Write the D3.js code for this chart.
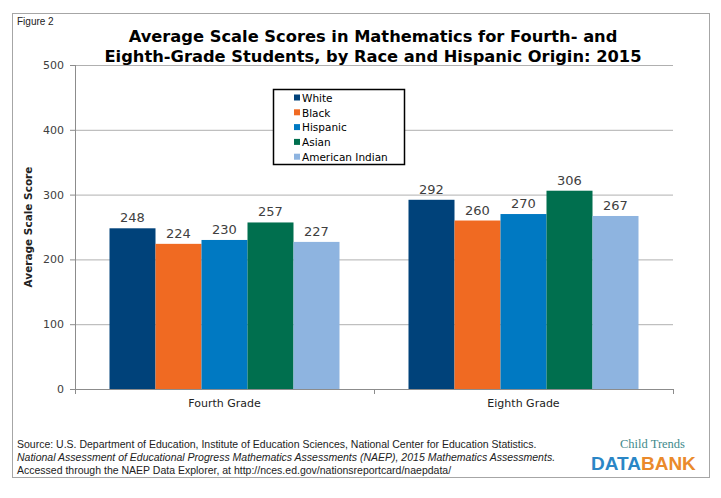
<!DOCTYPE html>
<html>
<head>
<meta charset="utf-8">
<script src="https://cdn.jsdelivr.net/npm/d3@7"></script>
<style>
  body { margin: 0; background: #fff; }
  svg { display: block; font-family: "DejaVu Sans", Verdana, sans-serif; }
</style>
</head>
<body>
<script>
(function () {
  "use strict";
  var w = 721, h = 498;
  var grades = ["Fourth Grade", "Eighth Grade"];
  var groups = ["White", "Black", "Hispanic", "Asian", "American Indian"];
  var colors = ["#00427a", "#f06a22", "#0079c2", "#006f4e", "#8eb4e0"];
  var fourth = [248, 224, 230, 257, 227];
  var eighth = [292, 260, 270, 306, 267];
  var yTicks = [0, 100, 200, 300, 400, 500];
  var scores = [fourth, eighth];

  var m = {left: 75, right: 673, top: 65, bottom: 389};

  var svg = d3.select("body").append("svg")
              .attr("width", w)
              .attr("height", h);

  // frame
  svg.append("rect")
     .attr("x", 12.5).attr("y", 13.5)
     .attr("width", 697).attr("height", 464)
     .attr("fill", "none").attr("stroke", "#a6a6a6");

  svg.append("text")
     .attr("x", 17).attr("y", 25)
     .attr("font-family", "Liberation Sans Narrow, Liberation Sans, sans-serif")
     .attr("font-size", 10).attr("fill", "#222")
     .text("Figure 2");

  var title = ["Average Scale Scores in Mathematics for Fourth- and",
               "Eighth-Grade Students, by Race and Hispanic Origin: 2015"];
  svg.selectAll("text.title")
     .data(title).enter().append("text")
     .attr("class", "title")
     .attr("x", 373).attr("y", (d, i) => 42 + i * 20)
     .attr("text-anchor", "middle")
     .attr("font-size", 16.3).attr("font-weight", "bold").attr("fill", "#000")
     .text(d => d);

  var x = d3.scaleBand().domain(grades).range([m.left, m.right]);
  var xi = d3.scaleBand().domain(groups)
             .range([0, x.bandwidth()])
             .paddingInner(0).paddingOuter(0.75);
  var y = d3.scaleLinear().domain([0, 500]).range([m.bottom, m.top]);

  // gridlines
  svg.append("g")
     .attr("transform", "translate(" + m.left + ",0)")
     .call(d3.axisLeft(y).tickValues(yTicks).tickSize(-(m.right - m.left)).tickFormat(""))
     .call(g => g.select(".domain").remove())
     .call(g => g.selectAll("line").attr("stroke", "#b0b0b0"));

  // y axis
  var ya = svg.append("g")
     .attr("transform", "translate(" + m.left + ",0)")
     .call(d3.axisLeft(y).tickValues(yTicks).tickSize(5).tickPadding(6));
  ya.select(".domain").attr("stroke", "#8c8c8c").attr("d", "M0.5," + m.top + "V" + m.bottom);
  ya.selectAll("line").attr("stroke", "#8c8c8c");
  ya.selectAll("text").attr("font-size", 11).attr("fill", "#404040")
    .attr("font-family", "DejaVu Sans, sans-serif");

  svg.append("text")
     .attr("transform", "translate(32," + ((m.top + m.bottom) / 2) + ") rotate(-90)")
     .attr("text-anchor", "middle")
     .attr("font-size", 10.5).attr("font-weight", "bold").attr("fill", "#222")
     .text("Average Scale Score");

  // bars
  var gg = svg.selectAll("g.grade")
     .data(grades).enter().append("g")
     .attr("class", "grade")
     .attr("transform", d => "translate(" + x(d) + ",0)");

  gg.selectAll("rect")
    .data((d, i) => scores[i].map((v, j) => ({g: groups[j], v: v, c: colors[j]})))
    .enter().append("rect")
    .attr("x", d => xi(d.g))
    .attr("width", xi.bandwidth())
    .attr("y", d => y(d.v))
    .attr("height", d => y(0) - y(d.v))
    .attr("fill", d => d.c);

  gg.selectAll("text.val")
    .data((d, i) => scores[i].map((v, j) => ({g: groups[j], v: v})))
    .enter().append("text")
    .attr("class", "val")
    .attr("x", d => xi(d.g) + xi.bandwidth() / 2)
    .attr("y", d => y(d.v) - 6)
    .attr("text-anchor", "middle")
    .attr("font-size", 13).attr("fill", "#404040")
    .text(d => d.v);

  // x axis
  var xa = svg.append("g")
     .attr("transform", "translate(0," + m.bottom + ")")
     .call(d3.axisBottom(x).tickSize(0).tickPadding(10));
  xa.select(".domain").attr("stroke", "#8c8c8c");
  xa.selectAll("text").attr("font-size", 11).attr("fill", "#222")
    .attr("font-family", "DejaVu Sans, sans-serif");
  svg.append("g").selectAll("line")
     .data([m.left, (m.left + m.right) / 2, m.right]).enter().append("line")
     .attr("x1", d => Math.round(d) + 0.5).attr("x2", d => Math.round(d) + 0.5)
     .attr("y1", m.bottom).attr("y2", m.bottom + 5)
     .attr("stroke", "#8c8c8c");

  // legend
  var lg = svg.append("g").attr("transform", "translate(273,89)");
  lg.append("rect")
    .attr("x", 0.5).attr("y", 0.5).attr("width", 131).attr("height", 75)
    .attr("fill", "#fff").attr("stroke", "#000").attr("stroke-width", 1.5);
  var li = lg.selectAll("g.item").data(groups).enter().append("g")
    .attr("class", "item")
    .attr("transform", (d, i) => "translate(21," + (9 + i * 14.8) + ")");
  li.append("rect").attr("x", 0).attr("y", -3.5).attr("width", 6).attr("height", 6)
    .attr("fill", (d, i) => colors[i]);
  li.append("text").attr("x", 8).attr("y", 3.8)
    .attr("font-size", 10.5).attr("fill", "#000")
    .text(d => d);

  // source
  var src = svg.append("g")
     .attr("font-family", "Liberation Sans Narrow, Liberation Sans, sans-serif")
     .attr("font-size", 10.5).attr("fill", "#222");
  src.append("text").attr("x", 17).attr("y", 448)
     .text("Source: U.S. Department of Education, Institute of Education Sciences, National Center for Education Statistics.");
  src.append("text").attr("x", 17).attr("y", 461).attr("font-style", "italic")
     .text("National Assessment of Educational Progress Mathematics Assessments (NAEP), 2015 Mathematics Assessments.");
  src.append("text").attr("x", 17).attr("y", 474)
     .text("Accessed through the NAEP Data Explorer, at http://nces.ed.gov/nationsreportcard/naepdata/");

  // logo
  svg.append("text").attr("x", 620).attr("y", 448)
     .attr("font-family", "Liberation Serif, serif").attr("font-size", 12.5)
     .attr("fill", "#3f8a8c")
     .text("Child Trends");
  var logo = svg.append("text").attr("x", 591).attr("y", 470)
     .attr("font-family", "Liberation Sans, sans-serif").attr("font-weight", "bold")
     .attr("font-size", 19);
  logo.append("tspan").attr("fill", "#2a86c6").text("DATA");
  logo.append("tspan").attr("fill", "#ea8a2b").text("BANK");
})();
</script>
</body>
</html>
